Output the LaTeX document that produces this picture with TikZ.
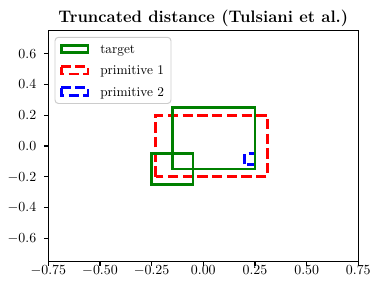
\documentclass[tikz,border=0pt]{standalone}
\usepackage{xcolor}
\definecolor{mplgreen}{RGB}{0,128,0}
\definecolor{legframe}{RGB}{204,204,204}
\begin{document}
\begin{tikzpicture}[x=0.72pt,y=-0.72pt,
  tickline/.style={line width=0.8pt},
  ticklabel/.style={font=\fontsize{10}{12}\selectfont, inner sep=0pt},
  target/.style={draw=mplgreen, line width=2pt},
  prim1/.style={draw=red, line width=2pt, dash pattern=on 7.4pt off 3.2pt},
  prim2/.style={draw=blue, line width=2pt, dash pattern=on 7.4pt off 3.2pt},
  legtext/.style={anchor=base west, inner sep=0pt, font=\fontsize{9.6}{11.5}\selectfont}]
\useasboundingbox (0,0) rectangle (380,295);
% title
\node[anchor=base, inner sep=0pt, font=\bfseries\fontsize{12}{14}\selectfont] (title) at (203.3,22.7) {Truncated distance (Tulsiani et al.)};
% data
\begin{scope}[shift={(203.3,146)}, xscale=206.7, yscale=-153.7]
  \draw[prim1] (-0.23,-0.2) rectangle (0.31,0.2);
  \draw[prim2] (0.2,-0.12) rectangle (0.25,-0.05);
  \draw[target] (-0.15,-0.15) rectangle (0.25,0.25);
  \draw[target] (-0.25,-0.25) rectangle (-0.05,-0.05);
\end{scope}
% axes frame
\draw[tickline] (48.3,30.7) rectangle (358.3,261.3);
% x ticks
\foreach \v/\l [count=\i] in {-0.75/{-0.75},-0.5/{-0.50},-0.25/{-0.25},0/{0.00},0.25/{0.25},0.5/{0.50},0.75/{0.75}} {
  \pgfmathsetmacro\px{203.3+206.7*\v}
  \draw[tickline] (\px,261.3) -- (\px,265.8);
  \node[ticklabel, anchor=base] (xt\i) at (\px,274.5) {$\l$};
}
% y ticks
\foreach \v/\l [count=\i] in {-0.6/{-0.6},-0.4/{-0.4},-0.2/{-0.2},0/{0.0},0.2/{0.2},0.4/{0.4},0.6/{0.6}} {
  \pgfmathsetmacro\py{146-153.7*\v}
  \draw[tickline] (43.8,\py) -- (48.3,\py);
  \node[ticklabel, anchor=base east] (yt\i) at (36.5,\py+4.4) {$\l$};
}
% legend
\draw[draw=legframe, fill=white, line width=0.7pt, rounded corners=2.5pt] (55,37.3) rectangle (171,103.5);
\draw[target] (61.4,45.3) rectangle (88,52.7);
\draw[prim1] (61.4,66.6) rectangle (88,74);
\draw[prim2] (61.4,87.8) rectangle (88,95.2);
\node[legtext] (l1) at (100,53.3) {target};
\node[legtext] (l2) at (100,74.5) {primitive 1};
\node[legtext] (l3) at (100,96) {primitive 2};
\end{tikzpicture}
\end{document}
